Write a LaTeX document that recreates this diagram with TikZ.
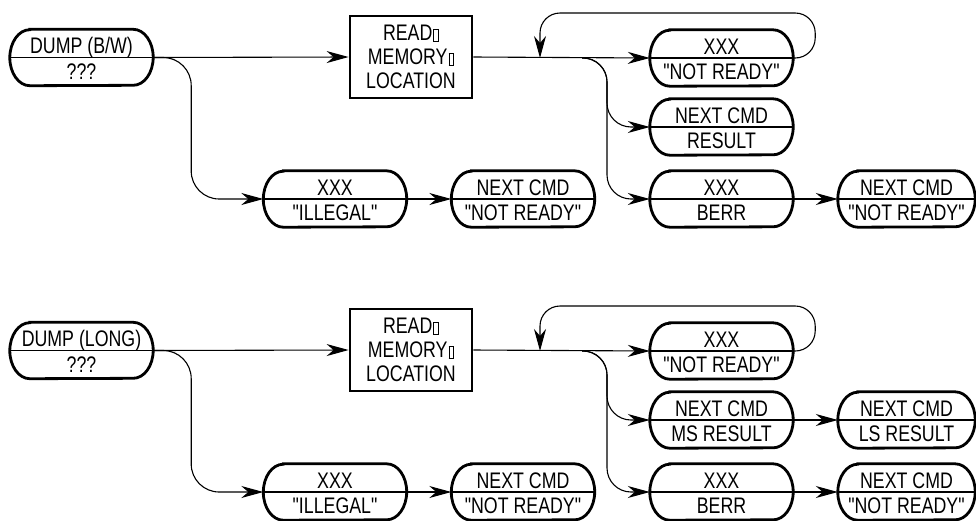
\documentclass[tikz,border=0pt]{standalone}
\usepackage{fontspec}
\setmainfont{Liberation Sans}[FakeStretch=0.79, Ligatures=TeXOff]
\usepackage{tikz}
\usetikzlibrary{arrows.meta}

% empty glyph box as printed after READ and MEMORY
\newcommand{\tofu}{\kern1pt{\fboxsep=0pt\fboxrule=0.8pt\fbox{\rule{0pt}{11pt}\kern4pt}}}
% pill: [width] name, centre, upper text, lower text
\newcommand{\pill}[5][143]{%
	\node[pillbox, minimum width=#1pt] (#2) at (#3) {};
	\draw[pillrim] ([xshift=20pt]#2.north west) -- ([xshift=-20pt]#2.north east)
		arc[start angle=90, end angle=-90, x radius=20pt, y radius=28pt]
		-- ([xshift=20pt]#2.south west)
		arc[start angle=270, end angle=90, x radius=20pt, y radius=28pt] -- cycle;
	\draw[thinline] (#2.west) -- (#2.east);
	\node[txt, anchor=base] (#2-up) at ([yshift=4pt]#2.center) {#4};
	\node[txt, anchor=base] (#2-lo) at ([yshift=-21.5pt]#2.center) {#5};
}

\begin{document}
\begin{tikzpicture}[x=1pt, y=-1pt,
	txt/.style={font=\fontsize{22.5}{24}\selectfont, inner sep=0pt},
	pillbox/.style={rectangle, minimum height=56pt, inner sep=0pt},
	pillrim/.style={line width=2.8pt},
	thinline/.style={line width=1.1pt},
	membox/.style={txt, draw, line width=2.8pt, minimum width=122pt, minimum height=82pt, align=center},
	flow/.style={thinline, -{Stealth[length=22pt, width=12pt, inset=7pt]}}]
	\useasboundingbox (0,0) rectangle (976,520);
	\foreach \g/\oy/\title in {1/0/{DUMP (B/W)}, 2/293/{DUMP (LONG)}}
	{
		\pill{dump\g}{81.5,57.5+\oy}{\title}{???}
		\node[membox] (read\g) at (411,57+\oy) {READ\tofu\\MEMORY\tofu\\LOCATION};
		\pill{ill\g}{335,199+\oy}{XXX}{"ILLEGAL"}
		\pill{nxt\g}{523,199+\oy}{NEXT CMD}{"NOT READY"}
		\pill{nr\g}{721.5,58+\oy}{XXX}{"NOT READY"}
		\pill{berr\g}{721.5,199+\oy}{XXX}{BERR}
		\pill[137]{nrd\g}{906.5,199+\oy}{NEXT CMD}{"NOT READY"}
		\coordinate (back\g) at (540,58+\oy);
		\coordinate (fork\g) at (582,58+\oy);
		\draw[flow] (dump\g.east) -- (read\g.west);
		\draw[flow, rounded corners=28pt] (dump\g.east) -- ++(38,0) |- (ill\g.west);
		\draw[flow] (ill\g.east) -- (nxt\g.west);
		\draw[flow] (read\g.east) -- (nr\g.west);
		\draw[flow, rounded corners=20pt] (nr\g.east) -- ++(22,0) -- ++(0,-45) -| (back\g);
		\draw[flow, rounded corners=24pt] (fork\g) -- ++(25,0) |- (berr\g.west);
		\draw[flow] (berr\g.east) -- (nrd\g.west);
	}
	% upper group: one result word
	\pill{res1}{721.5,127}{NEXT CMD}{RESULT}
	\draw[flow, rounded corners=24pt] (fork1) -- ++(25,0) |- (res1.west);
	% lower group: two result words
	\pill{ms2}{721.5,420}{NEXT CMD}{MS RESULT}
	\pill[137]{ls2}{906.5,420}{NEXT CMD}{LS RESULT}
	\draw[flow, rounded corners=24pt] (fork2) -- ++(25,0) |- (ms2.west);
	\draw[flow] (ms2.east) -- (ls2.west);
\end{tikzpicture}
\end{document}
